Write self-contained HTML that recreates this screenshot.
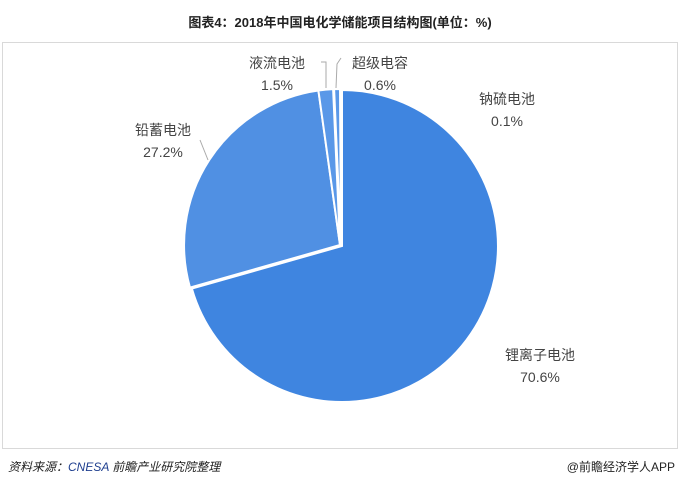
<!DOCTYPE html>
<html><head><meta charset="utf-8"><style>
body{margin:0;width:680px;height:489px;background:#fff;font-family:"Liberation Sans","Noto Sans CJK SC",sans-serif;overflow:hidden}
</style></head><body>
<svg width="680" height="489" viewBox="0 0 680 489" xmlns="http://www.w3.org/2000/svg" font-family="Liberation Sans, Noto Sans CJK SC, sans-serif">
<text x="340" y="27" text-anchor="middle" font-size="13" font-weight="bold" fill="#222">图表4：2018年中国电化学储能项目结构图(单位：%)</text>
<rect x="2.5" y="42.5" width="675" height="406" fill="none" stroke="#d9d9d9"/>
<g stroke="#fff" stroke-width="2">
<path d="M342,246 L342,90 A156,156 0 1 1 191.9,288.6 Z" fill="#3f85e0"/>
<path d="M340,245 L190,287.6 A156,156 0 0 1 318.4,90.5 Z" fill="#5090e3"/>
<path d="M340,245 L318.4,90.5 A156,156 0 0 1 333.1,89.1 Z" fill="#5a98e8"/>
<path d="M341,245 L334.1,89.1 A156,156 0 0 1 340,89 Z" fill="#5a98e8"/>
</g>
<g stroke="#aaa" fill="none">
<path d="M326,88 L326,62 L321,62"/>
<path d="M336,88 L337,64 L341,58"/>
<path d="M208,160 L200,140"/>
</g>
<g font-size="14" fill="#444" text-anchor="middle">
<text x="277" y="68">液流电池</text><text x="277" y="90">1.5%</text>
<text x="380" y="68">超级电容</text><text x="380" y="90">0.6%</text>
<text x="507" y="104">钠硫电池</text><text x="507" y="126">0.1%</text>
<text x="163" y="135">铅蓄电池</text><text x="163" y="157">27.2%</text>
<text x="540" y="360">锂离子电池</text><text x="540" y="382">70.6%</text>
</g>
<text x="8" y="471" font-size="12" font-style="italic" fill="#222">资料来源：<tspan fill="#1f3f8f">CNESA</tspan> 前瞻产业研究院整理</text>
<text x="675" y="471" font-size="12" text-anchor="end" fill="#222">@前瞻经济学人APP</text>
</svg>
</body></html>
